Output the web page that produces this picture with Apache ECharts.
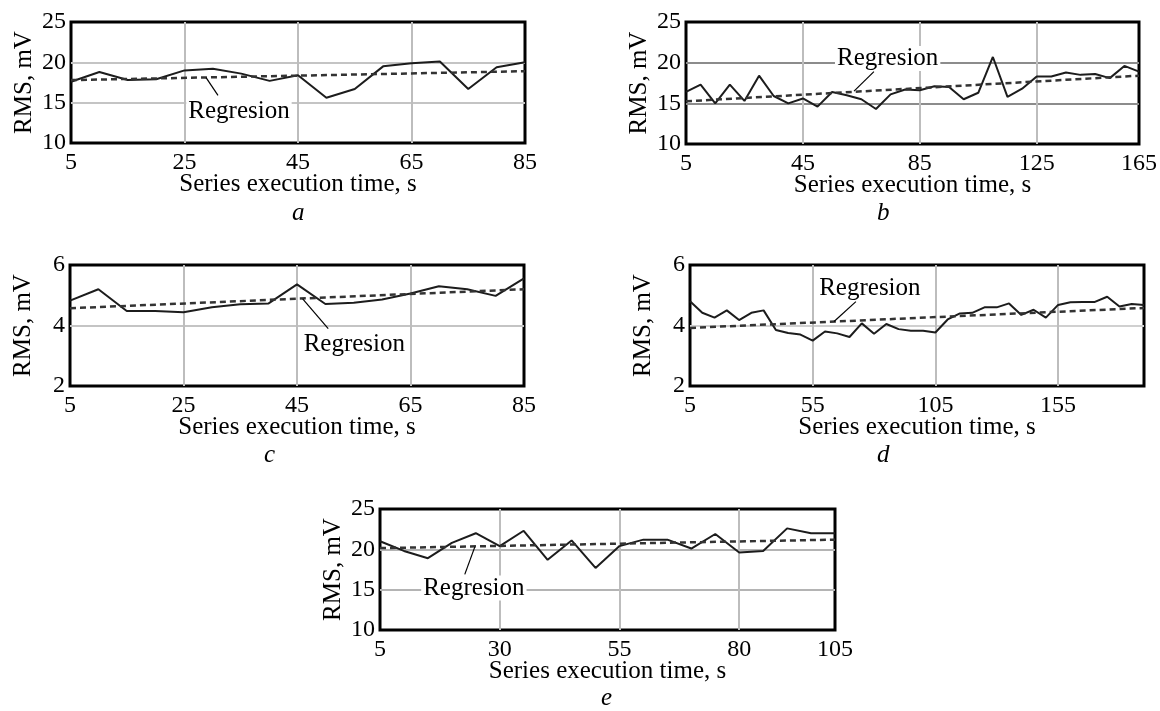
<!DOCTYPE html>
<html>
<head>
<meta charset="utf-8">
<title>RMS vs series execution time</title>
<style>
  html, body { margin: 0; padding: 0; background: #fff; }
  #chart { width: 1160px; height: 711px; }
</style>
<script src="https://cdn.jsdelivr.net/npm/echarts@6.0.0/dist/echarts.min.js"></script>
</head>
<body>
<div id="chart"></div>
<script>
// measured RMS, mV against series execution time, s
const timeA = [5, 10, 15, 20, 25, 30, 35, 40, 45, 50, 55, 60, 65, 70, 75, 80, 85];
const rmsA = [17.6, 18.8, 17.8, 17.9, 19.0, 19.2, 18.6, 17.7, 18.4, 15.6, 16.7, 19.5, 19.9, 20.1, 16.7, 19.4, 20.0];
const regTimeA = [5, 85];
const regRmsA = [17.8, 18.9];

const timeB = [5, 10, 15, 20, 25, 30, 35, 40, 45, 50, 55, 60, 65, 70, 75, 80,
  85, 90, 95, 100, 105, 110, 115, 120, 125, 130, 135, 140, 145, 150, 155, 160];
const rmsB = [16.4, 17.3, 15.0, 17.3, 15.3, 18.4, 15.9, 15.0, 15.6, 14.6, 16.4, 16.0, 15.5, 14.3, 16.1, 16.7,
  16.6, 17.1, 17.0, 15.5, 16.3, 20.7, 15.8, 16.8, 18.3, 18.3, 18.8, 18.5, 18.6, 18.1, 19.6, 18.9];
const regTimeB = [5, 160];
const regRmsB = [15.25, 18.4];

const timeC = [5, 10, 15, 20, 25, 30, 35, 40, 45, 50, 55, 60, 65, 70, 75, 80, 85];
const rmsC = [4.82, 5.2, 4.48, 4.48, 4.44, 4.6, 4.7, 4.73, 5.36, 4.71, 4.75, 4.86, 5.06, 5.3, 5.2, 4.98, 5.56];
const regTimeC = [5, 85];
const regRmsC = [4.57, 5.2];

const timeD = [5, 10, 15, 20, 25, 30, 35, 40, 45, 50, 55, 60, 65, 70, 75, 80, 85, 90, 95,
  100, 105, 110, 115, 120, 125, 130, 135, 140, 145, 150, 155, 160, 165, 170, 175, 180, 185, 190];
const rmsD = [4.8, 4.42, 4.26, 4.5, 4.18, 4.42, 4.5, 3.85, 3.75, 3.7, 3.5, 3.8, 3.74, 3.62, 4.07, 3.73, 4.05, 3.88, 3.83,
  3.83, 3.77, 4.2, 4.4, 4.42, 4.6, 4.6, 4.73, 4.35, 4.52, 4.26, 4.68, 4.77, 4.78, 4.78, 4.95, 4.63, 4.71, 4.68];
const regTimeD = [5, 190];
const regRmsD = [3.92, 4.58];

const timeE = [5, 10, 15, 20, 25, 30, 35, 40, 45, 50, 55, 60, 65, 70, 75, 80, 85, 90, 95, 100];
const rmsE = [21.0, 19.8, 18.9, 20.8, 22.0, 20.4, 22.3, 18.7, 21.1, 17.7, 20.4, 21.2, 21.2, 20.1, 21.9, 19.6, 19.8, 22.6, 22.0, 22.0];
const regTimeE = [5, 100];
const regRmsE = [20.15, 21.2];

// tick label text as printed (the corner label of b and e reads past the last point)
const tickTextB = { 5: "5", 45: "45", 85: "85", 125: "125", 160: "165" };
const tickTextE = { 5: "5", 30: "30", 55: "55", 80: "80", 100: "105" };

const xName = "Series execution time, s";
const yName = "RMS, mV";
const noteText = "Regresion";
const FONT = "'Liberation Serif', 'Times New Roman', serif";

const zip = (xs, ys) => xs.map((x, i) => [x, ys[i]]);

const panels = [
  { sub: "a", grid: { left: 71, top: 22, width: 454, height: 121 }, x: [5, 85, 20], y: [10, 25, 5],
    time: timeA, rms: rmsA, regT: regTimeA, regR: regRmsA,
    note: [34.6, 13.9], lead: [[30.9, 15.9], [28.8, 18.1]], subPos: [298, 215], hGrid: "#c4c4c4" },
  { sub: "b", grid: { left: 686, top: 22, width: 454, height: 122 }, x: [5, 160, 40], y: [10, 25, 5],
    time: timeB, rms: rmsB, regT: regTimeB, regR: regRmsB, ticks: tickTextB,
    note: [74, 20.5], lead: [[69.3, 18.9], [62.5, 16.5]], subPos: [883, 215], hGrid: "#8c8c8c" },
  { sub: "c", grid: { left: 70, top: 265, width: 454, height: 121 }, x: [5, 85, 20], y: [2, 6, 2],
    time: timeC, rms: rmsC, regT: regTimeC, regR: regRmsC,
    note: [55.1, 3.36], lead: [[46, 4.88], [50.5, 3.9]], subPos: [270, 457], hGrid: "#c4c4c4" },
  { sub: "d", grid: { left: 690, top: 265, width: 454, height: 121 }, x: [5, 190, 50], y: [2, 6, 2],
    time: timeD, rms: rmsD, regT: regTimeD, regR: regRmsD, hideMax: true,
    note: [78.3, 5.23], lead: [[72.6, 4.79], [63.7, 4.13]], subPos: [883, 457], hGrid: "#d0d0d0" },
  { sub: "e", grid: { left: 380, top: 509, width: 455, height: 121 }, x: [5, 100, 25], y: [10, 25, 5],
    time: timeE, rms: rmsE, regT: regTimeE, regR: regRmsE, ticks: tickTextE,
    note: [24.6, 15.2], lead: [[24.8, 20.3], [22.7, 16.9]], subPos: [607, 700], hGrid: "#b4b4b4" },
];

const chart = echarts.init(document.getElementById("chart"), null, { renderer: "canvas" });

var option = {
  animation: false,
  backgroundColor: "#fff",
  grid: [],
  xAxis: [],
  yAxis: [],
  series: [],
  graphic: [],
};

panels.forEach((p, i) => {
  option.grid.push(Object.assign({ show: true, borderColor: "#000", borderWidth: 3, backgroundColor: "transparent" }, p.grid));

  option.xAxis.push({
    type: "value",
    gridIndex: i,
    min: p.x[0],
    max: p.x[1],
    interval: p.x[2],
    name: xName,
    nameLocation: "middle",
    nameGap: 29,
    nameMoveOverlap: false,
    nameTextStyle: { fontFamily: FONT, fontSize: 25, color: "#000" },
    axisLine: { show: false },
    axisTick: { show: false },
    axisLabel: {
      margin: 8,
      fontFamily: FONT,
      fontSize: 24,
      color: "#000",
      showMinLabel: true,
      showMaxLabel: !p.hideMax,
      formatter: (v) => (p.ticks && p.ticks[v] !== undefined ? p.ticks[v] : String(v)),
    },
    splitLine: { show: true, showMinLine: false, showMaxLine: false, lineStyle: { color: "#bdbdbd", width: 2 } },
  });

  option.yAxis.push({
    type: "value",
    gridIndex: i,
    min: p.y[0],
    max: p.y[1],
    interval: p.y[2],
    name: yName,
    nameLocation: "middle",
    nameGap: 34,
    nameMoveOverlap: false,
    nameTextStyle: { fontFamily: FONT, fontSize: 25, color: "#000" },
    axisLine: { show: false },
    axisTick: { show: false },
    axisLabel: { margin: 5, fontFamily: FONT, fontSize: 24, color: "#000" },
    splitLine: { show: true, showMinLine: false, showMaxLine: false, lineStyle: { color: p.hGrid, width: 2 } },
  });

  option.series.push({
    type: "line",
    xAxisIndex: i,
    yAxisIndex: i,
    data: zip(p.time, p.rms),
    showSymbol: false,
    lineStyle: { color: "#1c1c1c", width: 2 },
    z: 3,
  });

  option.series.push({
    type: "line",
    xAxisIndex: i,
    yAxisIndex: i,
    data: zip(p.regT, p.regR),
    showSymbol: false,
    lineStyle: { color: "#333", width: 2.5, type: [6, 4] },
    z: 4,
    markLine: {
      silent: true,
      symbol: ["none", "none"],
      label: { show: false },
      lineStyle: { color: "#000", width: 1.2, type: "solid" },
      data: [[{ coord: p.lead[0] }, { coord: p.lead[1] }]],
    },
    markPoint: {
      silent: true,
      symbol: "rect",
      symbolSize: 0,
      label: {
        show: true,
        position: "inside",
        formatter: noteText,
        fontFamily: FONT,
        fontSize: 25,
        color: "#000",
        backgroundColor: "#fff",
        padding: [0, 2],
      },
      data: [{ coord: p.note }],
    },
  });

  option.graphic.push({
    type: "text",
    left: p.subPos[0] - 6,
    top: p.subPos[1] - 14,
    style: { text: p.sub, fontFamily: FONT, fontSize: 25, fontStyle: "italic", fill: "#000" },
  });
});

chart.setOption(option);
window.addEventListener("resize", function () {
  chart.resize();
});
</script>
</body>
</html>
